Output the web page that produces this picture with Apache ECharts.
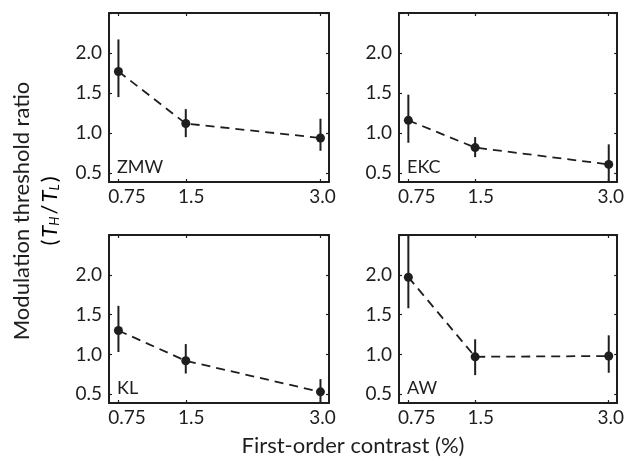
<!DOCTYPE html>
<html>
<head>
<meta charset="utf-8">
<script src="https://cdn.jsdelivr.net/npm/echarts@6/dist/echarts.min.js"></script>
<style>
  html, body { margin: 0; padding: 0; background: #fff; }
  #chart { width: 627px; height: 457px; }
</style>
</head>
<body>
<div id="chart"></div>
<script>
// First-order contrast levels (%) and their tick labels
const contrastLevels = [0.75, 1.5, 3.0];
const xTickLabels = ['0.75', '1.5', '3.0'];
const yTickValues = [0.5, 1.0, 1.5, 2.0];

// Observers, in panel order
const observers = ['ZMW', 'EKC', 'KL', 'AW'];

// Threshold ratio TH/TL: mean, lower and upper error bounds per observer
const zmwMean = [1.77, 1.12, 0.94];
const zmwLow  = [1.45, 0.95, 0.78];
const zmwHigh = [2.17, 1.30, 1.18];

const ekcMean = [1.16, 0.82, 0.61];
const ekcLow  = [0.88, 0.70, 0.38];
const ekcHigh = [1.48, 0.95, 0.86];

const klMean = [1.30, 0.92, 0.53];
const klLow  = [1.03, 0.76, 0.36];
const klHigh = [1.61, 1.13, 0.69];

const awMean = [1.97, 0.97, 0.98];
const awLow  = [1.58, 0.74, 0.77];
const awHigh = [2.62, 1.19, 1.24];

const panelData = [
  { mean: zmwMean, low: zmwLow, high: zmwHigh },
  { mean: ekcMean, low: ekcLow, high: ekcHigh },
  { mean: klMean, low: klLow, high: klHigh },
  { mean: awMean, low: awLow, high: awHigh }
];

const INK = '#1e1e1e';
const FONT = 'Lato, "Open Sans", sans-serif';
const TICK_FONT = 19;

// Panel frames in pixels
const panels = [
  { left: 109, top: 13, width: 220, height: 169 },
  { left: 399, top: 13, width: 220, height: 169 },
  { left: 109, top: 235, width: 220, height: 168 },
  { left: 399, top: 235, width: 220, height: 168 }
];

const X_MIN = 0.645, X_MAX = 3.095;
const Y_MIN = 0.39, Y_MAX = 2.5;
const yTickAll = yTickValues.concat([2.5]);

// x tick labels sit slightly right of their ticks
const xLabelRich = {
  x0: { fontSize: TICK_FONT, fontFamily: FONT, color: INK, padding: [0, 0, 0, 17] },
  x1: { fontSize: TICK_FONT, fontFamily: FONT, color: INK, padding: [0, 0, 0, 11] },
  x2: { fontSize: TICK_FONT, fontFamily: FONT, color: INK, padding: [0, 0, 0, 4] }
};

const grids = [], xAxes = [], yAxes = [], series = [], labels = [];

panels.forEach(function (p, i) {
  grids.push({ left: p.left, top: p.top, width: p.width, height: p.height, containLabel: false });

  const lineCfg = { show: true, onZero: false, lineStyle: { color: INK, width: 2 } };
  const tickCfg = { show: true, inside: true, length: 3, lineStyle: { color: INK, width: 1.2 } };

  // bottom axis with labels
  xAxes.push({
    type: 'value', gridIndex: i, position: 'bottom', min: X_MIN, max: X_MAX,
    axisLine: lineCfg,
    axisTick: Object.assign({ customValues: contrastLevels }, tickCfg),
    axisLabel: {
      customValues: contrastLevels, margin: 5,
      color: INK, fontSize: TICK_FONT, fontFamily: FONT,
      formatter: function (v) {
        const k = contrastLevels.indexOf(v);
        return '{x' + k + '|' + xTickLabels[k] + '}';
      },
      rich: xLabelRich
    },
    splitLine: { show: false }
  });
  // top frame edge
  xAxes.push({
    type: 'value', gridIndex: i, position: 'top', min: X_MIN, max: X_MAX,
    axisLine: lineCfg,
    axisTick: Object.assign({ customValues: contrastLevels }, tickCfg),
    axisLabel: { show: false },
    splitLine: { show: false }
  });
  // left axis with labels
  yAxes.push({
    type: 'value', gridIndex: i, position: 'left', min: Y_MIN, max: Y_MAX,
    axisLine: lineCfg,
    axisTick: Object.assign({ customValues: yTickAll }, tickCfg),
    axisLabel: {
      customValues: yTickValues, margin: 7,
      color: INK, fontSize: TICK_FONT, fontFamily: FONT,
      formatter: function (v) { return v.toFixed(1); }
    },
    splitLine: { show: false }
  });
  // right frame edge
  yAxes.push({
    type: 'value', gridIndex: i, position: 'right', min: Y_MIN, max: Y_MAX,
    axisLine: lineCfg,
    axisTick: Object.assign({ customValues: yTickAll }, tickCfg),
    axisLabel: { show: false },
    splitLine: { show: false }
  });

  const d = panelData[i];
  const xi = i * 2, yi = i * 2;

  // dashed connecting line with filled markers
  series.push({
    type: 'line', xAxisIndex: xi, yAxisIndex: yi,
    data: contrastLevels.map(function (x, k) { return [x, d.mean[k]]; }),
    symbol: 'circle', symbolSize: 9,
    itemStyle: { color: INK },
    lineStyle: { color: INK, width: 1.8, type: [9, 6] },
    z: 3, silent: true, animation: false
  });

  // vertical error bars
  series.push({
    type: 'custom', xAxisIndex: xi, yAxisIndex: yi, clip: true,
    data: contrastLevels.map(function (x, k) { return [x, d.low[k], d.high[k]]; }),
    renderItem: function (params, api) {
      const a = api.coord([api.value(0), api.value(1)]);
      const b = api.coord([api.value(0), api.value(2)]);
      return {
        type: 'line',
        shape: { x1: a[0], y1: a[1], x2: b[0], y2: b[1] },
        style: { stroke: INK, lineWidth: 2 }
      };
    },
    z: 2, silent: true, animation: false
  });

  // observer initials in the lower-left corner
  labels.push({
    type: 'text', x: p.left + 8, y: p.top + p.height - 15,
    style: {
      text: observers[i], fill: INK, font: '18px ' + FONT,
      textAlign: 'left', textVerticalAlign: 'middle'
    },
    z: 10
  });
});

const chart = echarts.init(document.getElementById('chart'), null, { renderer: 'canvas' });
chart.setOption({
  animation: false,
  backgroundColor: '#fff',
  grid: grids,
  xAxis: xAxes,
  yAxis: yAxes,
  series: series,
  graphic: labels.concat([
    {
      type: 'text', x: 22, y: 211, rotation: Math.PI / 2,
      style: {
        text: 'Modulation threshold ratio', fill: INK,
        font: '22px ' + FONT, textAlign: 'center', textVerticalAlign: 'middle'
      }
    },
    {
      type: 'text', x: 50, y: 211, rotation: Math.PI / 2,
      style: {
        text: '{p|(}{i|T}{s|H}{p|/}{i|T}{s|L}{p|)}',
        textAlign: 'center', textVerticalAlign: 'middle',
        rich: {
          p: { fontSize: 22, fontFamily: FONT, color: INK, padding: [0, 2, 0, 2] },
          i: { fontSize: 22, fontFamily: FONT, fontStyle: 'italic', color: INK },
          s: { fontSize: 13, fontFamily: FONT, fontStyle: 'italic', color: INK, padding: [10, 0, 0, 0] }
        }
      }
    },
    {
      type: 'text', x: 353, y: 446,
      style: {
        text: 'First-order contrast (%)', fill: INK,
        font: '22px ' + FONT, textAlign: 'center', textVerticalAlign: 'middle'
      }
    }
  ])
});
</script>
</body>
</html>
